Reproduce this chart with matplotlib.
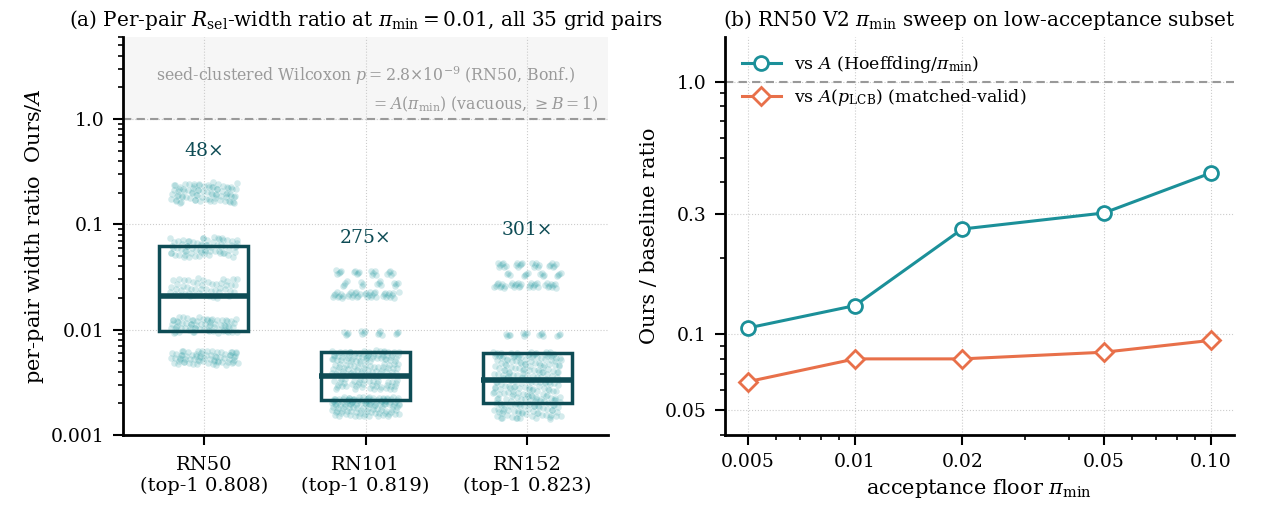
import matplotlib
matplotlib.use("Agg")
import matplotlib.pyplot as plt
import numpy as np
from matplotlib.ticker import FixedLocator, LogLocator, NullFormatter


# panel (a): per-pair width ratios, grouped by backbone
GROUPS = ["RN50", "RN101", "RN152"]
TOP1 = [0.808, 0.819, 0.823]

# value bands seen in the strip plot: (low, high, count)
BANDS = {
    "RN50": [
        (0.160, 0.250, 80),
        (0.049, 0.076, 70),
        (0.020, 0.031, 50),
        (0.0093, 0.0132, 70),
        (0.0046, 0.0063, 70),
    ],
    "RN101": [
        (0.033, 0.037, 20),
        (0.026, 0.029, 15),
        (0.020, 0.023, 40),
        (0.0088, 0.0097, 15),
        (0.0050, 0.0064, 60),
        (0.0036, 0.0048, 50),
        (0.0027, 0.0034, 40),
        (0.0019, 0.0023, 70),
        (0.0015, 0.0019, 50),
    ],
    "RN152": [
        (0.039, 0.044, 25),
        (0.032, 0.035, 15),
        (0.025, 0.028, 35),
        (0.0086, 0.0093, 15),
        (0.0055, 0.0062, 30),
        (0.0035, 0.0055, 70),
        (0.0022, 0.0035, 70),
        (0.0014, 0.0022, 70),
    ],
}

BOX_Q1 = [0.0097, 0.00215, 0.0020]
BOX_MEDIAN = [1 / 48, 1 / 275, 1 / 301]
BOX_Q3 = [0.062, 0.0062, 0.0060]

# panel (b): pi_min sweep
PI_MIN = [0.005, 0.01, 0.02, 0.05, 0.10]
PI_LABELS = ["0.005", "0.01", "0.02", "0.05", "0.10"]
RATIO_HOEFFDING = [0.106, 0.130, 0.261, 0.302, 0.435]
RATIO_LCB = [0.065, 0.080, 0.080, 0.085, 0.0947]

TEAL = "#1b9099"
DARK = "#0e4c55"
ORANGE = "#e8704a"
POINT = "#2a9ca3"

plt.rcParams["font.family"] = "DejaVu Serif"
plt.rcParams["mathtext.fontset"] = "dejavuserif"


def style_axes(ax):
    for side in ["top", "right"]:
        ax.spines[side].set_visible(False)
    for side in ["left", "bottom"]:
        ax.spines[side].set_linewidth(2)
    ax.tick_params(which="major", direction="out", length=7, width=1.5,
                   labelsize=13.5, pad=6)
    ax.tick_params(which="minor", direction="out", length=3.5, width=1.2)


def strip_points(bands, center):
    # spread each band's points over a narrow strip around the category
    xs, ys = [], []
    k = 0
    for low, high, count in bands:
        for _ in range(count):
            k += 1
            u = (0.31 + k * 0.7548776662) % 1.0
            v = (0.17 + k * 0.5698402910 + 0.13 * np.sin(k * 1.7)) % 1.0
            xs.append(center + (u - 0.5) * 0.42)
            ys.append(10 ** (np.log10(low) + v * (np.log10(high) - np.log10(low))))
    return xs, ys


fig = plt.figure(figsize=(12.63, 5.08), dpi=100)
ax1 = fig.add_axes([0.0974, 0.1437, 0.384, 0.7835])
ax2 = fig.add_axes([0.574, 0.1437, 0.403, 0.7835])

# ---- panel (a)
ax1.set_yscale("log")
ax1.set_xlim(-0.5, 2.5)
ax1.set_ylim(0.001, 6.0)
ax1.axhspan(1.0, 6.0, color="#f6f6f6", zorder=0)
ax1.axhline(1.0, color="#999999", lw=1.5, ls=(0, (4, 2.5)), zorder=1)

for i, name in enumerate(GROUPS):
    xs, ys = strip_points(BANDS[name], i)
    ax1.scatter(xs, ys, s=22, color=POINT, alpha=0.2, linewidths=0, zorder=2)
    w = 0.55
    q1, med, q3 = BOX_Q1[i], BOX_MEDIAN[i], BOX_Q3[i]
    ax1.add_patch(plt.Rectangle((i - w / 2, q1), w, q3 - q1, fill=False,
                                edgecolor=DARK, lw=2.5, zorder=3))
    ax1.plot([i - w / 2 - 0.01, i + w / 2 + 0.01], [med, med], color=DARK,
             lw=4, solid_capstyle="butt", zorder=4)
    top = max(b[1] for b in BANDS[name])
    ax1.text(i, top * 2.0, f"{1 / med:.0f}\u00d7", ha="center", va="center",
             fontsize=13.5, color=DARK, zorder=5)

ax1.text(1.0, 2.58, r"seed-clustered Wilcoxon $p=2.8{\times}10^{-9}$ (RN50, Bonf.)",
         ha="center", va="center", fontsize=11.3, color="#999999")
ax1.text(2.44, 1.37, r"$=A(\pi_{\min})$ (vacuous, $\geq B=1$)",
         ha="right", va="center", fontsize=11.3, color="#999999")

ax1.set_xticks(range(len(GROUPS)))
ax1.set_xticklabels([f"{g}\n(top-1 {t:.3f})" for g, t in zip(GROUPS, TOP1)])
ax1.yaxis.set_major_locator(FixedLocator([0.001, 0.01, 0.1, 1.0]))
ax1.set_yticklabels(["0.001", "0.01", "0.1", "1.0"])
ax1.yaxis.set_minor_locator(LogLocator(base=10, subs=np.arange(2, 10)))
ax1.yaxis.set_minor_formatter(NullFormatter())
ax1.grid(True, which="major", ls=":", color="#cccccc", lw=0.8)
ax1.set_axisbelow(True)
style_axes(ax1)
ax1.tick_params(axis="x", which="major", labelsize=14, pad=8)
ax1.set_ylabel(r"per-pair width ratio  Ours/$A$", fontsize=15)
ax1.set_title(r"(a) Per-pair $R_{\rm sel}$-width ratio at $\pi_{\min}=0.01$, all 35 grid pairs",
              fontsize=14.4, pad=8)

# ---- panel (b)
ax2.set_xscale("log")
ax2.set_yscale("log")
ax2.set_xlim(0.005 / 1.16, 0.10 * 1.16)
ax2.set_ylim(0.04, 1.5)
ax2.axhline(1.0, color="#999999", lw=1.5, ls=(0, (4, 2.5)), zorder=1)
ax2.plot(PI_MIN, RATIO_HOEFFDING, color=TEAL, lw=2.2, marker="o", ms=10,
         mfc="white", mec=TEAL, mew=2, label=r"vs $A$ (Hoeffding/$\pi_{\min}$)", zorder=3)
ax2.plot(PI_MIN, RATIO_LCB, color=ORANGE, lw=2.2, marker="D", ms=9.5,
         mfc="white", mec=ORANGE, mew=2, label=r"vs $A(p_{\rm LCB})$ (matched-valid)", zorder=3)

ax2.xaxis.set_major_locator(FixedLocator(PI_MIN))
ax2.set_xticklabels(PI_LABELS)
ax2.xaxis.set_minor_locator(LogLocator(base=10, subs=np.arange(2, 10)))
ax2.xaxis.set_minor_formatter(NullFormatter())
ax2.yaxis.set_major_locator(FixedLocator([0.05, 0.1, 0.3, 1.0]))
ax2.set_yticklabels(["0.05", "0.1", "0.3", "1.0"])
ax2.yaxis.set_minor_locator(LogLocator(base=10, subs=np.arange(2, 10)))
ax2.yaxis.set_minor_formatter(NullFormatter())
ax2.grid(True, which="major", ls=":", color="#cccccc", lw=0.8)
ax2.set_axisbelow(True)
style_axes(ax2)
ax2.set_xlabel(r"acceptance floor $\pi_{\min}$", fontsize=15)
ax2.set_ylabel("Ours / baseline ratio", fontsize=15)
ax2.set_title(r"(b) RN50 V2 $\pi_{\min}$ sweep on low-acceptance subset", fontsize=14.4, pad=8)
ax2.legend(loc="upper left", frameon=False, fontsize=12.5, handlelength=2.2,
           borderaxespad=0.6, labelspacing=0.7, bbox_to_anchor=(0.0, 1.0))

fig.savefig("out.png", dpi=100)
